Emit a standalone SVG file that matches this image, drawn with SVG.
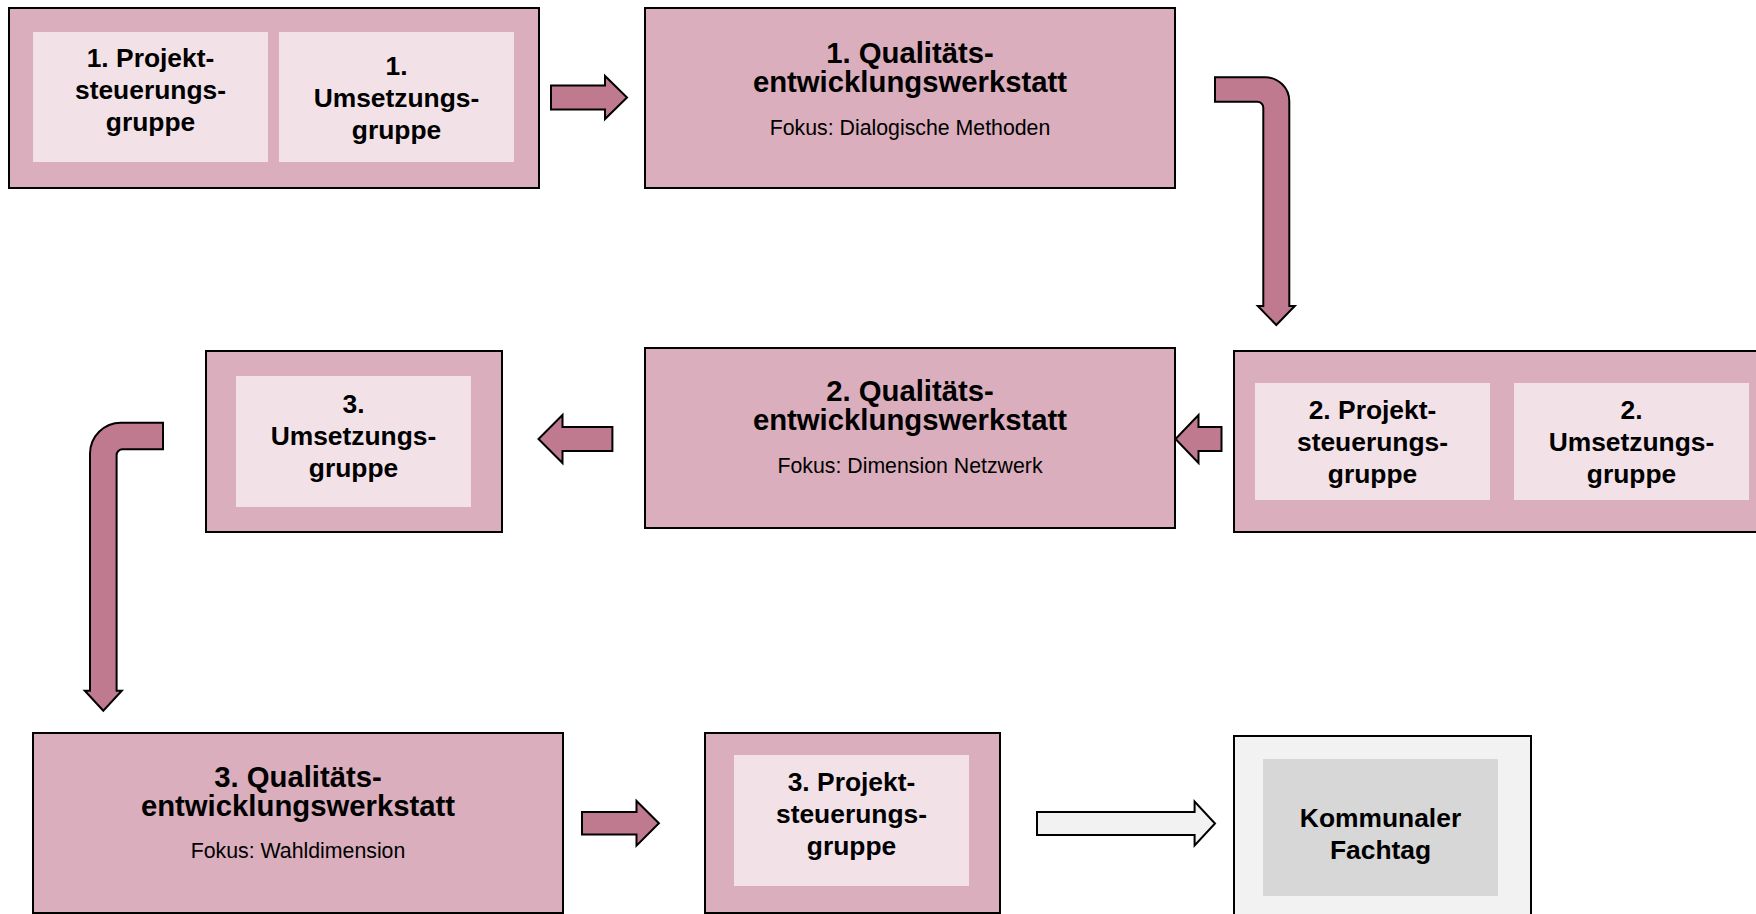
<svg xmlns="http://www.w3.org/2000/svg" width="1756" height="914" viewBox="0 0 1756 914">
<style>
.box{fill:#DAAEBC;stroke:#000;stroke-width:2}
.grey{fill:#F2F2F2;stroke:#000;stroke-width:2}
.inner{fill:#F2E2E8}
.ginner{fill:#D7D7D7}
.arrow{fill:#C07A90;stroke:#000;stroke-width:2;stroke-linejoin:miter}
.warrow{fill:#F2F2F2;stroke:#000;stroke-width:2;stroke-linejoin:miter}
text{font-family:"Liberation Sans",Arial,sans-serif;text-anchor:middle;fill:#000}
.t{font-weight:bold;font-size:26.4px}
.title{font-weight:bold;font-size:29.3px}
.fokus{font-size:21.3px}
</style>
<rect width="1756" height="914" fill="#fff"/>
<g id="connectors">
<path class="arrow" d="M551,85.5 H605 V76 L627,97.5 L605,119 V109.5 H551 Z"/>
<path class="arrow" d="M1215,77.3 H1265.3 A24,24 0 0 1 1289.3,101.3 V306 H1294.8 L1276.3,325 L1257.8,306 H1263.3 V107.7 A6,6 0 0 0 1257.3,101.7 H1215 Z"/>
<path class="arrow" d="M1221.5,427 H1198.5 V415 L1175.5,439 L1198.5,463 V451 H1221.5 Z"/>
<path class="arrow" d="M612.4,427 H562.5 V415 L538.5,439 L562.5,463 V451 H612.4 Z"/>
<path class="arrow" d="M163,422.7 V449.3 H122.6 A6,6 0 0 0 116.6,455.3 V690.7 H121.8 L103.3,710.7 L84.8,690.7 H90 V453.7 A31,31 0 0 1 121,422.7 Z"/>
<path class="arrow" d="M582,812 H636.5 V801 L658.9,823.3 L636.5,845.6 V834.6 H582 Z"/>
<path class="warrow" d="M1037,812 H1194.6 V801.5 L1215,823.5 L1194.6,845.5 V835 H1037 Z"/>
</g>
<g id="node-a">
<rect class="box" x="9" y="8" width="530" height="180"/>
<rect class="inner" x="33" y="32" width="235" height="130"/>
<rect class="inner" x="279" y="32" width="235" height="130"/>
<text class="t" x="150.5" y="67">1. Projekt-</text>
<text class="t" x="150.5" y="99">steuerungs-</text>
<text class="t" x="150.5" y="131">gruppe</text>
<text class="t" x="396.5" y="75">1.</text>
<text class="t" x="396.5" y="107">Umsetzungs-</text>
<text class="t" x="396.5" y="138.5">gruppe</text>
</g>
<g id="node-b">
<rect class="box" x="645" y="8" width="530" height="180"/>
<text class="title" x="910" y="62.5">1. Qualitäts-</text>
<text class="title" x="910" y="92">entwicklungswerkstatt</text>
<text class="fokus" x="910" y="135">Fokus: Dialogische Methoden</text>
</g>
<g id="node-c">
<rect class="box" x="1234" y="351" width="540" height="181"/>
<rect class="inner" x="1255" y="383" width="235" height="117"/>
<rect class="inner" x="1514" y="383" width="235" height="117"/>
<text class="t" x="1372.5" y="419">2. Projekt-</text>
<text class="t" x="1372.5" y="451">steuerungs-</text>
<text class="t" x="1372.5" y="482.5">gruppe</text>
<text class="t" x="1631.5" y="419">2.</text>
<text class="t" x="1631.5" y="451">Umsetzungs-</text>
<text class="t" x="1631.5" y="482.5">gruppe</text>
</g>
<g id="node-d">
<rect class="box" x="645" y="348" width="530" height="180"/>
<text class="title" x="910" y="400.5">2. Qualitäts-</text>
<text class="title" x="910" y="430">entwicklungswerkstatt</text>
<text class="fokus" x="910" y="473">Fokus: Dimension Netzwerk</text>
</g>
<g id="node-e">
<rect class="box" x="206" y="351" width="296" height="181"/>
<rect class="inner" x="236" y="376" width="235" height="131"/>
<text class="t" x="353.5" y="413">3.</text>
<text class="t" x="353.5" y="445">Umsetzungs-</text>
<text class="t" x="353.5" y="477">gruppe</text>
</g>
<g id="node-f">
<rect class="box" x="33" y="733" width="530" height="180"/>
<text class="title" x="298" y="786.5">3. Qualitäts-</text>
<text class="title" x="298" y="816">entwicklungswerkstatt</text>
<text class="fokus" x="298" y="858">Fokus: Wahldimension</text>
</g>
<g id="node-g">
<rect class="box" x="705" y="733" width="295" height="180"/>
<rect class="inner" x="734" y="755" width="235" height="131"/>
<text class="t" x="851.5" y="791">3. Projekt-</text>
<text class="t" x="851.5" y="823">steuerungs-</text>
<text class="t" x="851.5" y="855">gruppe</text>
</g>
<g id="node-h">
<rect class="grey" x="1234" y="736" width="297" height="180"/>
<rect class="ginner" x="1263" y="759" width="235" height="137"/>
<text class="t" x="1380.5" y="826.5">Kommunaler</text>
<text class="t" x="1380.5" y="859">Fachtag</text>
</g>
</svg>
